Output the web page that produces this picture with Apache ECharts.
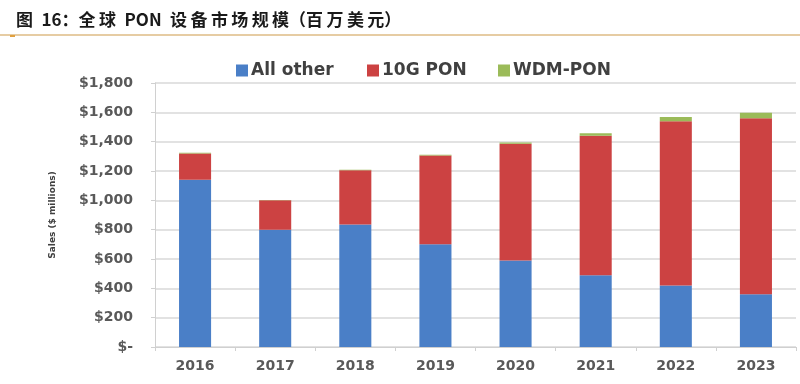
<!DOCTYPE html>
<html><head><meta charset="utf-8">
<script src="https://cdn.jsdelivr.net/npm/echarts@6/dist/echarts.min.js"></script>
<style>html,body{margin:0;padding:0;background:#fff}#c{width:800px;height:384px}</style>
</head><body><div id="c"></div>
<script>
var categories = ['2016','2017','2018','2019','2020','2021','2022','2023'];
var allOther = [1140, 800, 835, 700, 590, 490, 420, 360];
var pon10g  = [180, 200, 370, 605, 795, 950, 1120, 1200];
var wdmPon  = [5, 3, 3, 5, 10, 17, 28, 38];
var seriesNames = ['All other', '10G PON', 'WDM-PON'];
var yTicks = { min: 0, max: 1800, interval: 200 };

var TS = '\u2009', ES = '\u2002';
var titleText = '图' + ES + '16：' + ['全','球'].join(TS) + ES + 'PON' + ES + ['设','备','市','场','规','模'].join(TS) + '（' + ['百','万','美','元'].join(TS) + '）';

var chart = echarts.init(document.getElementById('c'));
var axisFont = { fontFamily: 'DejaVu Sans', fontWeight: 'bold', fontSize: 14, color: '#595959' };
var legendText = { fontFamily: 'DejaVu Sans', fontSize: 17, fontWeight: 'bold', color: '#404040', padding: [0, 0, 0, -2] };
function mkLegend(name, left) {
  return { left: left, top: 57, itemWidth: 12, itemHeight: 12, icon: 'rect',
           textStyle: legendText, data: [name] };
}
chart.setOption({
  animation: false,
  title: {
    text: titleText,
    left: 11, top: 6,
    textStyle: { fontFamily: 'Noto Sans CJK SC', fontWeight: 'bold', fontSize: 17, color: '#1a1a1a' }
  },
  graphic: [
    { type: 'rect', shape: { x: 0, y: 34, width: 800, height: 2 }, style: { fill: '#e6cca3' } },
    { type: 'rect', shape: { x: 10, y: 35, width: 5, height: 2 }, style: { fill: '#e0a040' } }
  ],
  legend: [ mkLegend(seriesNames[0], 231), mkLegend(seriesNames[1], 362), mkLegend(seriesNames[2], 493) ],
  grid: { left: 155, right: 4, top: 83, bottom: 37 },
  xAxis: {
    type: 'category', data: categories,
    axisLine: { lineStyle: { color: '#d0d0d0' } },
    axisTick: { show: true, length: 4, lineStyle: { color: '#d0d0d0' } },
    axisLabel: Object.assign({ margin: 12 }, axisFont)
  },
  yAxis: {
    type: 'value', min: yTicks.min, max: yTicks.max, interval: yTicks.interval,
    name: 'Sales ($ millions)', nameLocation: 'middle', nameGap: 98,
    nameTextStyle: { fontFamily: 'DejaVu Sans', fontWeight: 'bold', fontSize: 9, color: '#404040' },
    axisLine: { show: true, lineStyle: { color: '#d0d0d0' } },
    axisTick: { show: true, length: 4, lineStyle: { color: '#d0d0d0' } },
    splitLine: { lineStyle: { color: '#d9d9d9', width: 1.5 } },
    axisLabel: Object.assign({
      margin: 22,
      formatter: function (v) { return v === 0 ? '$-' : '$' + v.toLocaleString('en-US'); }
    }, axisFont)
  },
  series: [
    { name: seriesNames[0], type: 'bar', stack: 't', data: allOther, barWidth: '40%', itemStyle: { color: '#4a7fc7' } },
    { name: seriesNames[1], type: 'bar', stack: 't', data: pon10g, itemStyle: { color: '#cc4242' } },
    { name: seriesNames[2], type: 'bar', stack: 't', data: wdmPon, itemStyle: { color: '#9bbb59' } }
  ]
});
</script></body></html>
